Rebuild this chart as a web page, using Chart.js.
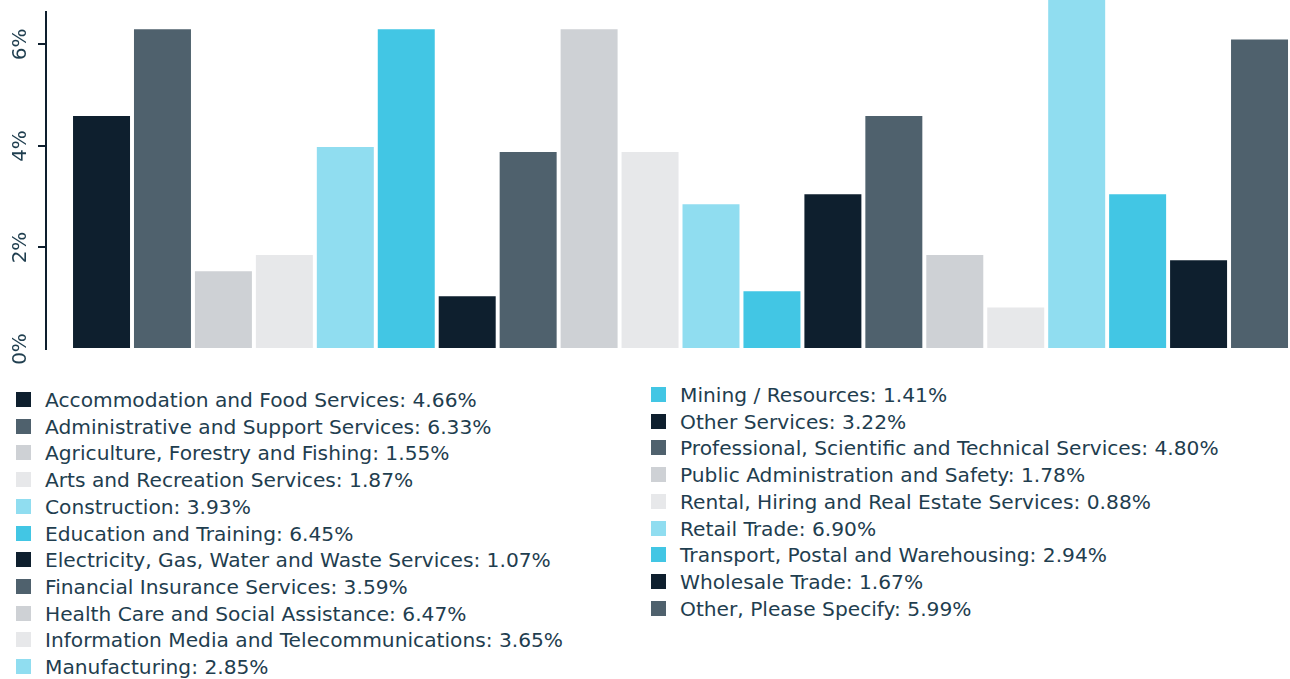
<!DOCTYPE html>
<html>
<head>
<meta charset="utf-8">
<script src="https://cdn.jsdelivr.net/npm/chart.js@4.4.1/dist/chart.umd.min.js"></script>
<style>
  html, body { margin: 0; padding: 0; background: #ffffff; width: 1290px; height: 679px; overflow: hidden; }
  #wrap { position: absolute; left: 0; top: 0; width: 1290px; height: 372px; }
  .legend { position: absolute; font-family: "DejaVu Sans", sans-serif; font-size: 20.2px; color: #1f3e4f; }
  .item { position: absolute; left: 0; white-space: nowrap; height: 26px; line-height: 26px; }
  .sw { position: absolute; left: 0; top: 5px; width: 15px; height: 15px; }
  .tx { position: absolute; left: 29px; top: 0; }
</style>
</head>
<body>
<div id="wrap"><canvas id="c"></canvas></div>
<div class="legend" id="legL" style="left:16px; top:387px;"></div>
<div class="legend" id="legR" style="left:651px; top:382px;"></div>
<script>
const categories = [
  "Accommodation and Food Services",
  "Administrative and Support Services",
  "Agriculture, Forestry and Fishing",
  "Arts and Recreation Services",
  "Construction",
  "Education and Training",
  "Electricity, Gas, Water and Waste Services",
  "Financial Insurance Services",
  "Health Care and Social Assistance",
  "Information Media and Telecommunications",
  "Manufacturing",
  "Mining / Resources",
  "Other Services",
  "Professional, Scientific and Technical Services",
  "Public Administration and Safety",
  "Rental, Hiring and Real Estate Services",
  "Retail Trade",
  "Transport, Postal and Warehousing",
  "Wholesale Trade",
  "Other, Please Specify"
];
// bar heights as drawn in the picture (%)
const barValues = [4.59, 6.30, 1.53, 1.85, 3.98, 6.30, 1.04, 3.88, 6.30, 3.88,
                   2.85, 1.14, 3.05, 4.59, 1.85, 0.82, 6.90, 3.05, 1.75, 6.10];
// percentages printed in the legend
const legendValues = ["4.66", "6.33", "1.55", "1.87", "3.93", "6.45", "1.07", "3.59", "6.47", "3.65",
                      "2.85", "1.41", "3.22", "4.80", "1.78", "0.88", "6.90", "2.94", "1.67", "5.99"];
const yTicks = [0, 2, 4, 6];
const palette = ["#0e1f2e", "#4f616d", "#ced1d5", "#e7e8ea", "#90ddf0", "#42c6e4"];

const colors = categories.map((_, i) => palette[i % palette.length]);
const axisColor = "#0e1f2e";
const textColor = "#1f3e4f";

new Chart(document.getElementById("c"), {
  type: "bar",
  data: {
    datasets: [{
      data: barValues.map((v, i) => ({ x: i, y: v })),
      backgroundColor: colors,
      borderWidth: 0,
      barPercentage: 0.935,
      categoryPercentage: 1.0,
      clip: false
    }]
  },
  options: {
    responsive: true,
    maintainAspectRatio: false,
    animation: false,
    layout: { padding: { top: 12, bottom: 23, left: 0, right: 0 } },
    plugins: { legend: { display: false }, tooltip: { enabled: false } },
    scales: {
      x: {
        type: "linear",
        display: false,
        min: -0.911,
        max: 19.5,
        offset: false
      },
      y: {
        min: 0,
        max: 6.64,
        afterFit: (s) => { s.width = 46; s.paddingTop = 0; s.paddingBottom = 0; },
        afterBuildTicks: (s) => { s.ticks = yTicks.map(v => ({ value: v })); },
        ticks: {
          includeBounds: false,
          callback: (v) => v + "%",
          minRotation: 90,
          maxRotation: 90,
          crossAlign: "center",
          padding: 1,
          color: textColor,
          font: { family: "DejaVu Sans", size: 20 }
        },
        grid: {
          drawOnChartArea: false,
          drawTicks: true,
          tickLength: 8,
          lineWidth: 2,
          color: (ctx) => (ctx.tick && ctx.tick.value === 0) ? "rgba(0,0,0,0)" : axisColor
        },
        border: { display: true, color: axisColor, width: 2 }
      }
    }
  }
});

function buildLegend(el, from, to) {
  for (let i = from; i < to; i++) {
    const row = document.createElement("div");
    row.className = "item";
    row.style.top = ((i - from) * 26.7) + "px";
    const sw = document.createElement("span");
    sw.className = "sw";
    sw.style.background = colors[i];
    const tx = document.createElement("span");
    tx.className = "tx";
    tx.textContent = categories[i] + ": " + legendValues[i] + "%";
    row.appendChild(sw);
    row.appendChild(tx);
    el.appendChild(row);
  }
}
buildLegend(document.getElementById("legL"), 0, 11);
buildLegend(document.getElementById("legR"), 11, 20);
</script>
</body>
</html>
